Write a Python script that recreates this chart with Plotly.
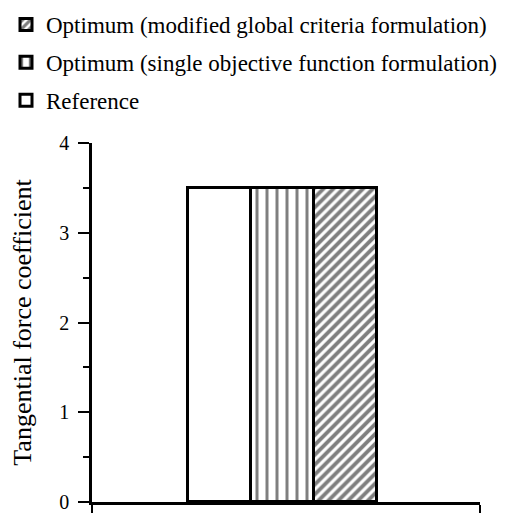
import plotly.graph_objects as go

series_names = ["Optimum (modified global criteria formulation)",
                "Optimum (single objective function formulation)",
                "Reference"]
positions = [3, 2, 1]
values = [3.5, 3.5, 3.5]
patterns = ["/", "|", ""]

fig = go.Figure()
for name, pos, val, pat in zip(series_names, positions, values, patterns):
    fig.add_trace(go.Bar(
        x=[pos], y=[val], name=name, width=1,
        marker=dict(color="white",
                    line=dict(color="black", width=3),
                    pattern=dict(shape=pat, fgcolor="black", bgcolor="white",
                                 size=10 if pat == "|" else 7,
                                 solidity=0.3 if pat == "|" else 0.55)),
        legendgroup=name,
    ))

# page body has an 8px margin, so the figure is placed at (8, 8)
xmin, xmax = -1.02, 5.14
fig.update_layout(
    width=500, height=506,
    margin=dict(l=84, r=28, t=135, b=12, autoexpand=False),
    paper_bgcolor="white", plot_bgcolor="white",
    font=dict(family="Liberation Serif", size=19, color="black"),
    showlegend=True,
    legend=dict(x=-86 / 388, y=1.39, xanchor="left", yanchor="top",
                traceorder="grouped", tracegroupgap=5,
                font=dict(size=23), itemwidth=30),
    xaxis=dict(range=[xmin, xmax], showline=True, linecolor="black", linewidth=2.5,
               tickvals=[xmin, xmax], ticktext=["", ""], ticks="outside",
               ticklen=8, tickwidth=2, tickcolor="black", showgrid=False,
               zeroline=False, automargin=False),
    yaxis=dict(range=[0, 4], showline=True, linecolor="black", linewidth=2.5,
               tickvals=[0, 1, 2, 3, 4], ticks="outside", ticklen=11, tickwidth=2,
               tickcolor="black", showgrid=False, zeroline=False, automargin=False,
               tickfont=dict(size=20), ticklabelstandoff=5,
               minor=dict(tickvals=[0.5, 1.5, 2.5, 3.5], ticks="outside", ticklen=6,
                          tickwidth=2, tickcolor="black"),
               title=dict(text="Tangential force coefficient", standoff=26,
                          font=dict(size=26))),
    bargap=0,
)
fig.write_html("out.html")
